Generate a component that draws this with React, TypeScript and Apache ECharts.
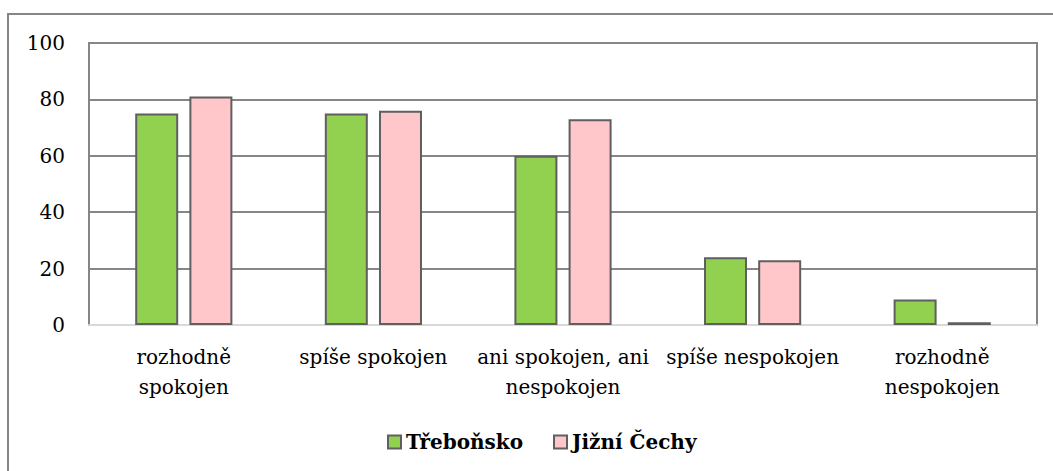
import React, { useEffect, useRef } from "react";
import * as echarts from "echarts";

const categories = [
  "rozhodně\nspokojen",
  "spíše spokojen",
  "ani spokojen, ani\nnespokojen",
  "spíše nespokojen",
  "rozhodně\nnespokojen",
];
const trebonsko = [75, 75, 60, 24, 9];
const jizniCechy = [81, 76, 73, 23, 1];
const yTicks = { min: 0, max: 100, interval: 20 };

const FONT = "DejaVu Serif";

export default function App() {
  const ref = useRef<HTMLDivElement>(null);
  useEffect(() => {
    document.body.style.margin = "0";
    const chart = echarts.init(ref.current!, null, { renderer: "svg" });
    chart.setOption({
      animation: false,
      backgroundColor: "#ffffff",
      textStyle: { fontFamily: FONT },
      graphic: [
        {
          type: "rect",
          shape: { x: 8, y: 14, width: 1200, height: 600 },
          style: { fill: "none", stroke: "#868686", lineWidth: 2 },
          z: 0,
          silent: true,
        },
      ],
      grid: {
        left: 89,
        top: 43,
        right: 16,
        bottom: 146,
        show: true,
        borderColor: "#868686",
        borderWidth: 2,
        backgroundColor: "transparent",
      },
      legend: {
        left: 382,
        top: 427,
        itemWidth: 13,
        itemHeight: 13,
        itemGap: 30,
        icon: "rect",
        textStyle: {
          fontFamily: FONT,
          fontSize: 20,
          fontWeight: "bold",
          color: "#000",
        },
        data: ["Třeboňsko", "Jižní Čechy"],
      },
      xAxis: {
        type: "category",
        data: categories,
        axisLine: { show: true, lineStyle: { color: "#d9d9d9", width: 2 } },
        axisTick: { show: false },
        axisLabel: {
          interval: 0,
          margin: 17,
          fontFamily: FONT,
          fontSize: 20,
          color: "#000",
          lineHeight: 30,
        },
      },
      yAxis: {
        type: "value",
        min: yTicks.min,
        max: yTicks.max,
        interval: yTicks.interval,
        axisLine: { show: false },
        axisTick: { show: false },
        splitLine: { lineStyle: { color: "#868686", width: 2 } },
        axisLabel: {
          margin: 24,
          fontFamily: FONT,
          fontSize: 20,
          color: "#000",
        },
      },
      series: [
        {
          name: "Třeboňsko",
          type: "bar",
          data: trebonsko,
          barWidth: 43,
          barGap: "26%",
          itemStyle: { color: "#92d050", borderColor: "#5f5f5f", borderWidth: 2 },
        },
        {
          name: "Jižní Čechy",
          type: "bar",
          data: jizniCechy,
          barWidth: 43,
          barGap: "26%",
          itemStyle: { color: "#ffc7c9", borderColor: "#5f5f5f", borderWidth: 2 },
        },
      ],
    });
    return () => chart.dispose();
  }, []);
  return <div ref={ref} style={{ width: 1053, height: 471 }} />;
}
